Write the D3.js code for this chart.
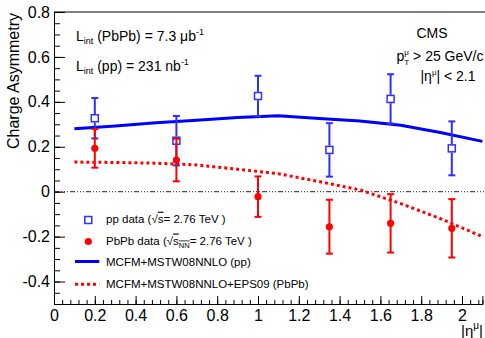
<!DOCTYPE html>
<html>
<head>
<meta charset="utf-8">
<script src="https://cdn.jsdelivr.net/npm/d3@7"></script>
<style>
  html, body { margin: 0; padding: 0; background: #fff; }
  svg { display: block; font-family: "Liberation Sans", Arial, Helvetica, sans-serif; }
</style>
</head>
<body>
<svg id="chart" width="485" height="338"></svg>
<script>
// Muon charge asymmetry vs |eta|, pp and PbPb at 2.76 TeV
const etaBins = [0.2, 0.6, 1.0, 1.35, 1.65, 1.95];
const ppAsym = [0.327, 0.227, 0.426, 0.186, 0.413, 0.193];
const ppErr = [0.09, 0.11, 0.09, 0.119, 0.11, 0.12];
const pbpbAsym = [0.193, 0.141, -0.022, -0.156, -0.141, -0.163];
const pbpbErr = [0.086, 0.095, 0.09, 0.12, 0.13, 0.13];

// theory predictions
const theoryEta = [0.1, 0.3, 0.5, 0.7, 0.9, 1.1, 1.3, 1.5, 1.7, 1.9, 2.1];
const theoryPP = [0.280, 0.293, 0.307, 0.318, 0.330, 0.338, 0.326, 0.315, 0.296, 0.262, 0.224];
const theoryPbPb = [0.132, 0.130, 0.127, 0.119, 0.100, 0.080, 0.045, 0.008, -0.053, -0.122, -0.200];

const xTicks = [0, 0.2, 0.4, 0.6, 0.8, 1.0, 1.2, 1.4, 1.6, 1.8, 2.0];
const yTicks = [-0.4, -0.2, 0, 0.2, 0.4, 0.6, 0.8];

const blue = "#0000ff", blueData = "#2f2fff", red = "#ff0000";

const svg = d3.select("#chart");
const x = d3.scaleLinear().domain([0, 2.1]).range([54, 482.4]);
const y = d3.scaleLinear().domain([-0.5, 0.8]).range([304, 12]);

// frame
svg.append("line").attr("x1", 54).attr("x2", 485).attr("y1", 12).attr("y2", 12)
  .attr("stroke", "#000").attr("stroke-width", 1);

// axes with inward ticks
const fmt = d => d === 0 ? "0" : String(+d.toFixed(1));
const yMinor = d3.range(-10, 17).map(i => i * 0.05);
const xMinor = d3.range(0, 53).map(i => i * 0.04).filter(v => v <= 2.1);

const gy = svg.append("g").attr("transform", "translate(54,0)");
gy.call(d3.axisLeft(y).tickValues(yMinor).tickSize(-6).tickFormat(""));
gy.call(g => g.append("g").call(d3.axisLeft(y).tickValues(yTicks).tickSize(-11).tickPadding(4).tickFormat(fmt)));

const gx = svg.append("g").attr("transform", "translate(0,304)");
gx.call(d3.axisBottom(x).tickValues(xMinor).tickSize(-4).tickFormat(""));
gx.call(g => g.append("g").call(d3.axisBottom(x).tickValues(xTicks).tickSize(-8).tickPadding(6).tickFormat(fmt)));

svg.selectAll(".domain").attr("stroke", "#000").attr("stroke-width", 1);
svg.selectAll(".tick line").attr("stroke", "#000").attr("stroke-width", 1);
svg.selectAll(".tick text").attr("fill", "#000").attr("font-size", 16)
  .attr("font-family", "Liberation Sans, Arial, sans-serif");

// axis titles
svg.append("text").attr("transform", "translate(19,13) rotate(-90)")
  .attr("text-anchor", "end").attr("font-size", 16).text("Charge Asymmetry");

const xt = svg.append("text").attr("x", 483).attr("y", 336).attr("text-anchor", "end").attr("font-size", 15);
xt.append("tspan").text("|η");
xt.append("tspan").attr("font-size", 10).attr("dy", -7).text("μ");
xt.append("tspan").attr("dy", 7).text("|");

// zero reference line
svg.append("line").attr("x1", 54).attr("x2", 485).attr("y1", y(0)).attr("y2", y(0))
  .attr("stroke", "#222").attr("stroke-width", 1)
  .attr("stroke-dasharray", "5,2,1,2,1,2,1,2");

// theory curves
const line = d3.line().x(d => x(d[0])).y(d => y(d[1]));
svg.append("path").datum(d3.zip(theoryEta, theoryPP)).attr("d", line)
  .attr("fill", "none").attr("stroke", blue).attr("stroke-width", 3);
svg.append("path").datum(d3.zip(theoryEta, theoryPbPb)).attr("d", line)
  .attr("fill", "none").attr("stroke", red).attr("stroke-width", 3)
  .attr("stroke-dasharray", "3,3");

// data with error bars
function drawData(vals, errs, color, half, markerFn) {
  const g = svg.append("g");
  etaBins.forEach((eta, i) => {
    const cx = x(eta), cy = y(vals[i]);
    const top = y(vals[i] + errs[i]), bot = y(vals[i] - errs[i]);
    g.append("line").attr("x1", cx).attr("x2", cx).attr("y1", top).attr("y2", cy - half)
      .attr("stroke", color).attr("stroke-width", 2);
    g.append("line").attr("x1", cx).attr("x2", cx).attr("y1", cy + half).attr("y2", bot)
      .attr("stroke", color).attr("stroke-width", 2);
    [top, bot].forEach(yy => g.append("line").attr("x1", cx - 3.5).attr("x2", cx + 3.5)
      .attr("y1", yy).attr("y2", yy).attr("stroke", color).attr("stroke-width", 2));
    markerFn(g, cx, cy);
  });
}
const squareMarker = (g, cx, cy) => g.append("rect").attr("x", cx - 3.5).attr("y", cy - 3.5)
  .attr("width", 7).attr("height", 7).attr("fill", "none").attr("stroke", blueData).attr("stroke-width", 1.5);
const dotMarker = (g, cx, cy) => g.append("circle").attr("cx", cx).attr("cy", cy).attr("r", 3.6).attr("fill", red);

drawData(ppAsym, ppErr, blueData, 4.2, squareMarker);
drawData(pbpbAsym, pbpbErr, red, 0, dotMarker);

// annotations
function lumi(yb, label, value, unit) {
  const t = svg.append("text").attr("x", 76).attr("y", yb).attr("font-size", 14);
  t.append("tspan").text("L");
  t.append("tspan").attr("font-size", 9).attr("dy", 3).text("int");
  t.append("tspan").attr("dy", -3).text(" " + label + " = " + value + " " + unit);
  t.append("tspan").attr("font-size", 9).attr("dy", -6).text("-1");
}
lumi(41, "(PbPb)", "7.3", "μb");
lumi(71, "(pp)", "231", "nb");

svg.append("text").attr("x", 432).attr("y", 38).attr("text-anchor", "middle").attr("font-size", 14).text("CMS");
const pt = svg.append("text").attr("x", 440).attr("y", 61).attr("text-anchor", "middle").attr("font-size", 14);
pt.append("tspan").text("p");
pt.append("tspan").attr("font-size", 8).attr("dy", -6).text("μ");
pt.append("tspan").attr("font-size", 8).attr("dx", -4.6).attr("dy", 10).text("T");
pt.append("tspan").attr("dy", -4).text(" > 25 GeV/c");
const et = svg.append("text").attr("x", 448).attr("y", 81).attr("text-anchor", "middle").attr("font-size", 14);
et.append("tspan").text("|η");
et.append("tspan").attr("font-size", 8).attr("dy", -6).text("μ");
et.append("tspan").attr("dy", 6).text("| < 2.1");

// legend
const lg = svg.append("g").attr("font-size", 11.5);
const lx = 106, rows = [222.7, 244.5, 266, 287.7];
lg.append("rect").attr("x", 88.3 - 3.5).attr("y", rows[0] - 6.2).attr("width", 7).attr("height", 7)
  .attr("fill", "none").attr("stroke", blueData).attr("stroke-width", 1.5);
lg.append("circle").attr("cx", 88.3).attr("cy", rows[1] - 3).attr("r", 3.6).attr("fill", red);
lg.append("line").attr("x1", 75).attr("x2", 99.3).attr("y1", rows[2] - 4.5).attr("y2", rows[2] - 4.5)
  .attr("stroke", blue).attr("stroke-width", 3);
lg.append("line").attr("x1", 75).attr("x2", 99.3).attr("y1", rows[3] - 3.5).attr("y2", rows[3] - 3.5)
  .attr("stroke", red).attr("stroke-width", 3).attr("stroke-dasharray", "3,3");

const l1 = lg.append("text").attr("x", lx).attr("y", rows[0]);
l1.append("tspan").text("pp data (√");
l1.append("tspan").attr("text-decoration", "overline").text("s");
l1.append("tspan").text("= 2.76 TeV )");
const l2 = lg.append("text").attr("x", lx).attr("y", rows[1]);
l2.append("tspan").text("PbPb data (√");
l2.append("tspan").attr("text-decoration", "overline").text("s");
l2.append("tspan").attr("font-size", 7.5).attr("dy", 3).attr("text-decoration", "overline").text("NN");
l2.append("tspan").attr("dy", -3).text("= 2.76 TeV )");
lg.append("text").attr("x", lx).attr("y", rows[2]).text("MCFM+MSTW08NNLO (pp)");
lg.append("text").attr("x", lx).attr("y", rows[3]).text("MCFM+MSTW08NNLO+EPS09 (PbPb)");
</script>
</body>
</html>
